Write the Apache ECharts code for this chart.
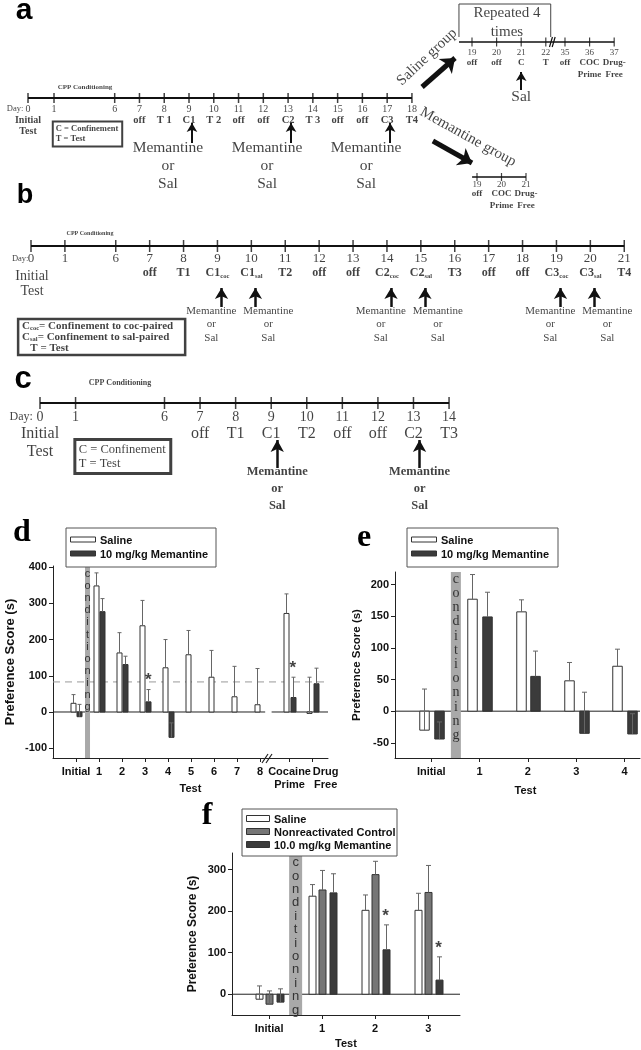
<!DOCTYPE html>
<html>
<head>
<meta charset="utf-8">
<script src="https://cdn.jsdelivr.net/npm/echarts@6.0.0/dist/echarts.min.js"></script>
<style>
html,body{margin:0;padding:0;background:#fff;}
#chart{width:641px;height:1050px;}
</style>
</head>
<body>
<div id="chart"></div>
<script>
// ---------------- DATA ----------------
// Panel a timeline
const aDays = [0,1,6,7,8,9,10,11,12,13,14,15,16,17,18];
const aEvents = ['','','','off','T 1','C1','T 2','off','off','C2','T 3','off','off','C3','T4'];
const aDrugDays = [9,13,17];
const aSalDays = [19,20,21,22,35,36,37];
const aSalEvents = ['off','off','C','T','off','COC\nPrime','Drug-\nFree'];
const aSalDrugDays = [21];
const aMemDays = [19,20,21];
const aMemEvents = ['off','COC\nPrime','Drug-\nFree'];
// Panel b timeline
const bDays = [0,1,6,7,8,9,10,11,12,13,14,15,16,17,18,19,20,21];
const bEvents = ['','','','off','T1','C1coc','C1sal','T2','off','off','C2coc','C2sal','T3','off','off','C3coc','C3sal','T4'];
const bDrugDays = [9,10,14,15,19,20];
// Panel c timeline
const cDays = [0,1,6,7,8,9,10,11,12,13,14];
const cEvents = ['','','','off','T1','C1','T2','off','off','C2','T3'];
const cDrugDays = [9,13];
const treatmentText = 'Memantine\nor\nSal';

// Panel d
const dCategories = ['Initial','1','2','3','4','5','6','7','8','Cocaine\nPrime','Drug\nFree'];
const dSeriesNames = ['Saline','10 mg/kg Memantine'];
const dSaline = [24,348,163,238,122,158,96,42,20,272,-4];
const dSalineErrTop = [48,384,219,308,200,225,170,126,120,326,96];
const dMemantine = [-13,277,131,28,-70,null,null,null,null,40,78];
const dMemantineErrTop = [21,313,154,62,-30,null,null,null,null,96,121];
const dSignificant = [3,9];
const dCriterion = 83;
const dYTicks = [-100,0,100,200,300,400];

// Panel e
const eCategories = ['Initial','1','2','3','4'];
const eSeriesNames = ['Saline','10 mg/kg Memantine'];
const eSaline = [-30,177,157,48,71];
const eSalineErrTop = [35,216,176,77,98];
const eMemantine = [-44,149,55,-35,-36];
const eMemantineErrTop = [-17,188,95,30,-4];
const eYTicks = [-50,0,50,100,150,200];

// Panel f
const fCategories = ['Initial','1','2','3'];
const fSeriesNames = ['Saline','Nonreactivated Control','10.0 mg/kg Memantine'];
const fSaline = [-12,236,202,202];
const fSalineErrTop = [20,264,239,243];
const fControl = [-24,251,288,245];
const fControlErrTop = [8,298,320,310];
const fMemantine = [-19,244,107,34];
const fMemantineErrTop = [13,290,167,90];
const fSignificant = [2,3];
const fYTicks = [0,100,200,300];

const bandWord = 'conditioning';
const yName = 'Preference Score (s)';
const xName = 'Test';

// ---------------- BUILD ----------------
const SERIF = 'Liberation Serif', SANS = 'Liberation Sans';
const INK = '#111';
const grids = [], xAxes = [], yAxes = [], series = [], graphic = [];

function addGrid(g, xa, ya) {
  const i = grids.length;
  grids.push(g);
  xAxes.push(Object.assign({gridIndex: i}, xa));
  yAxes.push(Object.assign({gridIndex: i}, ya));
  return i;
}
function T(x, y, t, s) { return {value: [x, y], label: Object.assign({formatter: t}, s || {})}; }
function textSeries(gi, items) {
  return {type: 'scatter', xAxisIndex: gi, yAxisIndex: gi, symbolSize: 0, clip: false, silent: true, z: 6,
    itemStyle: {color: 'rgba(0,0,0,0)'},
    label: {show: true, position: 'inside', color: INK, fontFamily: SERIF, align: 'center', verticalAlign: 'middle'},
    data: items};
}
function arrowLines(list, width, size) {
  return {silent: true, symbol: ['none', 'arrow'], symbolSize: size, label: {show: false},
    lineStyle: {color: INK, width: width, type: 'solid'}, emphasis: {disabled: true},
    data: list.map(a => [{coord: [a[0], a[1]]}, {coord: [a[2], a[3]]}])};
}

function timeline(c) {
  const gi = addGrid(
    {left: c.left + c.xMin * c.unit, top: c.lineY - c.up, width: (c.xMax - c.xMin) * c.unit, height: c.up + c.down},
    {type: 'value', min: c.xMin, max: c.xMax, show: false},
    {type: 'value', min: -c.up, max: c.down, inverse: true, show: false});
  const slots = c.days.map(c.slot);
  series.push({type: 'line', xAxisIndex: gi, yAxisIndex: gi, silent: true, clip: false, symbol: 'none', z: 3,
    lineStyle: {color: INK, width: c.lineW}, data: [[c.lineFrom, 0], [c.lineTo, 0]]});
  const arrows = (c.drugDays || []).map(d => {
    const x = c.slot(d) + c.arrowDx; return [x, c.arrowY[0], x, c.arrowY[1]];
  });
  series.push({type: 'scatter', xAxisIndex: gi, yAxisIndex: gi, silent: true, clip: false, z: 4,
    symbol: 'rect', symbolSize: c.tick, itemStyle: {color: INK},
    data: slots.map(s => [s, 0]),
    markLine: arrows.length ? arrowLines(arrows, c.arrowW, c.arrowSize) : undefined});
  const items = [];
  slots.forEach((s, i) => {
    items.push(T(s, c.dayY, String(c.days[i]), {fontSize: c.dayFont}));
    const ev = c.events[i];
    if (ev) {
      const m = ev.match(/^(C\d)(coc|sal)$/);
      items.push(T(s, c.evY - c.evLH / 2, m ? '{m|' + m[1] + '}{s|' + m[2] + '}' : ev,
        Object.assign({fontSize: c.evFont, fontWeight: c.evWeight, lineHeight: c.evLH, verticalAlign: 'top'},
          m ? {rich: c.rich} : {})));
    }
  });
  (c.drugDays || []).forEach((d, k) => {
    if (!c.treat) return;
    const dx = Array.isArray(c.treat.dx) ? c.treat.dx[k % c.treat.dx.length] : c.treat.dx;
    items.push(T(c.slot(d) + dx, c.treat.y, c.treat.text,
      {fontSize: c.treat.font, fontWeight: c.treat.weight || 'normal', lineHeight: c.treat.lh, verticalAlign: 'top'}));
  });
  (c.extras || []).forEach(e => items.push(e));
  series.push(textSeries(gi, items));
  return gi;
}

// ---- Panel a: main timeline
const aSlot = d => d === 0 ? 0 : d === 1 ? 1.05 : d - 2.5;
timeline({
  left: 28, unit: 24.77, xMin: 0, xMax: 15.5, lineY: 98, up: 98, down: 100,
  lineFrom: 0, lineTo: 15.5, lineW: 2, tick: [1.5, 10],
  days: aDays, events: aEvents, slot: aSlot,
  dayY: 11, dayFont: 10, evY: 22, evLH: 11, evFont: 10.5, evWeight: 'bold',
  drugDays: aDrugDays, arrowDx: 0.12, arrowY: [45, 25], arrowW: 2, arrowSize: [8, 9],
  treat: {dx: -0.85, y: 41, text: treatmentText, font: 15.5, lh: 18},
  extras: [
    T(-0.52, 11, 'Day:', {fontSize: 8.5}),
    T(0, 16.5, 'Initial\nTest', {fontSize: 10, fontWeight: 'bold', lineHeight: 11, verticalAlign: 'top'}),
    T(2.3, -11, 'CPP Conditioning', {fontSize: 7, fontWeight: 'bold'}),
    T(1.0, 36, 'C = Confinement\nT = Test', {fontSize: 8.5, fontWeight: 'bold', lineHeight: 10, align: 'left',
      borderColor: INK, borderWidth: 2, padding: [3, 4, 2, 3]})
  ]
});
// ---- Panel a: saline group timeline
const aSalSlot = d => d <= 22 ? d - 19 : d - 35 + 3.78;
const aSalGi = timeline({
  left: 472, unit: 24.6, xMin: -2.3, xMax: 5.8, lineY: 42, up: 42, down: 130,
  lineFrom: -0.53, lineTo: 5.78, lineW: 1.5, tick: [1.2, 9],
  days: aSalDays, events: aSalEvents, slot: aSalSlot,
  dayY: 11, dayFont: 9, evY: 21, evLH: 12, evFont: 9, evWeight: 'bold',
  drugDays: aSalDrugDays, arrowDx: 0, arrowY: [48, 30], arrowW: 2, arrowSize: [8, 9],
  extras: [
    T(1.42, -19.5, 'Repeated 4\ntimes', {fontSize: 15, lineHeight: 19}),
    T(2, 55, 'Sal', {fontSize: 15.5}),
    T(-1.83, 15, 'Saline group', {fontSize: 15, rotate: 43}),
    T(-0.16, 95, 'Memantine group', {fontSize: 15, rotate: -29})
  ]
});
series.push({type: 'line', xAxisIndex: aSalGi, yAxisIndex: aSalGi, silent: true, clip: false, symbol: 'none', z: 3,
  lineStyle: {color: '#444', width: 1}, data: [[-0.53, -5], [-0.53, -38], [3.2, -38], [3.2, -5]],
  markLine: {silent: true, symbol: ['none', 'none'], label: {show: false}, lineStyle: {color: INK, width: 1.2, type: 'solid'},
    data: [[{coord: [3.15, 5]}, {coord: [3.27, -5]}], [{coord: [3.26, 5]}, {coord: [3.38, -5]}]]}});
series.push({type: 'scatter', xAxisIndex: aSalGi, yAxisIndex: aSalGi, silent: true, symbolSize: 0, data: [],
  markLine: arrowLines([[-2.03, 45, -0.69, 16], [-1.59, 99, 0, 121]], 5, [15, 13])});
// ---- Panel a: memantine group timeline
timeline({
  left: 477, unit: 24.5, xMin: -0.3, xMax: 2.1, lineY: 177, up: 10, down: 40,
  lineFrom: -0.2, lineTo: 2, lineW: 1.5, tick: [1.2, 8],
  days: aMemDays, events: aMemEvents, slot: d => d - 19,
  dayY: 8, dayFont: 9, evY: 17, evLH: 12, evFont: 9, evWeight: 'bold'
});
// ---- Panel b
timeline({
  left: 31, unit: 33.9, xMin: 0, xMax: 17.5, lineY: 246, up: 20, down: 115,
  lineFrom: 0, lineTo: 17.5, lineW: 2, tick: [1.5, 12],
  days: bDays, events: bEvents, slot: d => d === 0 ? 0 : d === 1 ? 1 : d - 3.5,
  dayY: 13, dayFont: 13, evY: 27, evLH: 14, evFont: 12, evWeight: 'bold',
  rich: {m: {fontSize: 12, fontWeight: 'bold', fontFamily: SERIF, color: INK, lineHeight: 14},
         s: {fontSize: 6.5, fontWeight: 'bold', fontFamily: SERIF, color: INK, lineHeight: 8, verticalAlign: 'bottom'}},
  drugDays: bDrugDays, arrowDx: 0.12, arrowY: [61, 42], arrowW: 2.5, arrowSize: [10, 11],
  treat: {dx: [-0.18, 0.5], y: 58.25, text: treatmentText, font: 11, lh: 13.5},
  extras: [
    T(-0.32, 13, 'Day:', {fontSize: 8.5}),
    T(0.03, 22.5, 'Initial\nTest', {fontSize: 14, lineHeight: 15, verticalAlign: 'top'}),
    T(1.74, -13, 'CPP Conditioning', {fontSize: 6, fontWeight: 'bold'}),
    T(-0.38, 91, '{t|C}{s|coc}{t|= Confinement to coc-paired}\n{t|C}{s|sal}{t|= Confinement to sal-paired}\n{t|   T = Test}',
      {align: 'left', borderColor: INK, borderWidth: 2.5, padding: [2, 12, 1, 4],
       rich: {t: {fontSize: 11, fontWeight: 'bold', fontFamily: SERIF, color: INK, lineHeight: 11},
              s: {fontSize: 6.5, fontWeight: 'bold', fontFamily: SERIF, color: INK, lineHeight: 6, verticalAlign: 'bottom'}}})
  ]
});
// ---- Panel c
timeline({
  left: 40, unit: 35.57, xMin: 0, xMax: 11.5, lineY: 403, up: 25, down: 110,
  lineFrom: 0, lineTo: 11.5, lineW: 2, tick: [1.5, 12],
  days: cDays, events: cEvents, slot: d => d === 0 ? 0 : d === 1 ? 1 : d - 2.5,
  dayY: 14, dayFont: 14, evY: 31, evLH: 18, evFont: 16, evWeight: 'normal',
  drugDays: cDrugDays, arrowDx: 0.17, arrowY: [65, 37], arrowW: 2.5, arrowSize: [10, 12],
  treat: {dx: 0.17, y: 60.5, text: treatmentText, font: 12.5, weight: 'bold', lh: 17},
  extras: [
    T(-0.53, 14, 'Day:', {fontSize: 12}),
    T(0, 22, 'Initial\nTest', {fontSize: 16, lineHeight: 18, verticalAlign: 'top'}),
    T(2.25, -20, 'CPP Conditioning', {fontSize: 8, fontWeight: 'bold'}),
    T(0.98, 53.5, 'C = Confinement\nT = Test', {fontSize: 12.5, lineHeight: 14, align: 'left',
      borderColor: INK, borderWidth: 3, padding: [3, 5, 3, 4]})
  ]
});

// ---------------- BAR PANELS ----------------
function barSeries(gi, name, pos, vals, errs, off, w, fill, capW) {
  const data = [];
  vals.forEach((v, i) => { if (v !== null) data.push([pos(i), v, errs[i]]); });
  return {type: 'custom', name: name, xAxisIndex: gi, yAxisIndex: gi, silent: true, clip: false, z: 4,
    encode: {x: 0, y: 1},
    renderItem: function (params, api) {
      const x = api.value(0), v = api.value(1), e = api.value(2);
      const p0 = api.coord([x, 0]), p1 = api.coord([x, v]), pe = api.coord([x, e]);
      const cx = Math.round(p0[0] + off) + 0.5;
      return {type: 'group', children: [
        {type: 'rect', shape: {x: cx - w / 2, y: Math.min(p0[1], p1[1]), width: w, height: Math.abs(p1[1] - p0[1])},
          style: {fill: fill, stroke: '#333', lineWidth: 1}},
        {type: 'line', shape: {x1: cx, y1: p1[1], x2: cx, y2: pe[1]}, style: {stroke: '#666', lineWidth: 1}},
        {type: 'line', shape: {x1: cx - capW / 2, y1: pe[1], x2: cx + capW / 2, y2: pe[1]}, style: {stroke: '#666', lineWidth: 1}}
      ]};
    },
    data: data};
}
function bandSeries(gi, pos, w, font, lh, pad) {
  return {type: 'custom', xAxisIndex: gi, yAxisIndex: gi, silent: true, z: 5, data: [[pos, 0]],
    renderItem: function (params, api) {
      const cs = params.coordSys, c = api.coord([api.value(0), 0]);
      return {type: 'group', children: [
        {type: 'rect', shape: {x: c[0] - w / 2, y: cs.y, width: w, height: cs.height}, style: {fill: '#a9a9a9'}},
        {type: 'text', style: {text: bandWord.split('').join('\n'), x: c[0], y: cs.y + pad, align: 'center',
          verticalAlign: 'top', font: font, lineHeight: lh, fill: '#333'}}
      ]};
    }};
}
function refLine(gi, pts, style, z) {
  return {type: 'line', xAxisIndex: gi, yAxisIndex: gi, silent: true, symbol: 'none', clip: false, z: z || 2,
    lineStyle: style, data: pts};
}
function starSeries(gi, pts, off) {
  return {type: 'scatter', xAxisIndex: gi, yAxisIndex: gi, symbolSize: 0, silent: true, clip: false, z: 6,
    itemStyle: {color: 'rgba(0,0,0,0)'},
    label: {show: true, position: 'inside', formatter: '*', color: INK, fontFamily: SANS, fontWeight: 'bold',
      fontSize: 17, offset: [off, -9]},
    data: pts};
}
function barAxes(c) {
  const labFont = {fontFamily: SANS, fontWeight: 'bold', fontSize: 11, color: INK};
  const labelPos = c.labelPos || c.pos;
  return addGrid(c.grid,
    {type: 'value', min: c.xMin, max: c.xMax,
     axisLine: {show: true, onZero: false, lineStyle: {color: '#222', width: 1}},
     axisTick: {show: true, customValues: c.cats.map((_, i) => c.pos(i)), length: 4, lineStyle: {color: '#222'}},
     axisLabel: Object.assign({customValues: c.cats.map((_, i) => labelPos(i)), margin: 7, lineHeight: 13,
       showMinLabel: true, showMaxLabel: true,
       formatter: v => {
         const i = c.cats.findIndex((_, k) => Math.abs(labelPos(k) - v) < 1e-3);
         return i < 0 ? '' : c.cats[i];
       }}, labFont),
     splitLine: {show: false},
     name: xName, nameLocation: 'middle', nameGap: c.xGap, nameMoveOverlap: false,
     nameTextStyle: Object.assign({padding: [0, 0, 0, c.xNameShift || 0]}, labFont)},
    {type: 'value', min: c.yMin, max: c.yMax,
     axisLine: {show: true, onZero: false, lineStyle: {color: '#222', width: 1}},
     axisTick: {show: true, customValues: c.yTicks, length: 4, lineStyle: {color: '#222'}},
     axisLabel: Object.assign({customValues: c.yTicks, margin: 6}, labFont),
     splitLine: {show: false},
     name: yName, nameLocation: 'middle', nameRotate: 90, nameGap: c.yGap, nameMoveOverlap: false,
     nameTextStyle: {fontFamily: SANS, fontWeight: 'bold', fontSize: c.yNameFont, color: INK}});
}

// ---- Panel d
const dPos = i => i <= 8 ? i : i + 0.28;
const dLabelPos = i => i === dCategories.length - 1 ? dPos(i) + 0.57 : dPos(i);
const dGi = barAxes({grid: {left: 53, top: 566, width: 275, height: 192}, xMin: -1, xMax: 10.95, yMin: -127, yMax: 403,
  cats: dCategories, pos: dPos, labelPos: dLabelPos, yTicks: dYTicks, xGap: 25, yGap: 36, yNameFont: 13});
series.push(refLine(dGi, [[-1, 0], [8.22, 0]], {color: '#222', width: 1}));
series.push(refLine(dGi, [[8.5, 0], [10.95, 0]], {color: '#222', width: 1}));
series.push(refLine(dGi, [[-1, dCriterion], [10.95, dCriterion]], {color: '#999', width: 1, type: [7, 5]}));
series.push(bandSeries(dGi, 0.5, 5, '11px ' + SANS, 12.1, 2));
series.push(barSeries(dGi, dSeriesNames[0], dPos, dSaline, dSalineErrTop, -3.3, 5, '#fff', 4));
series.push(barSeries(dGi, dSeriesNames[1], dPos, dMemantine, dMemantineErrTop, 3.3, 5, '#3b3b3b', 4));
series.push(starSeries(dGi, dSignificant.map(i => [dPos(i), dMemantineErrTop[i]]), 3.3));

// ---- Panel e
const ePos = i => i;
const eGi = barAxes({grid: {left: 395, top: 572, width: 245, height: 186}, xMin: -0.75, xMax: 4.32, yMin: -74, yMax: 220,
  cats: eCategories, pos: ePos, yTicks: eYTicks, xGap: 27, yGap: 32, yNameFont: 11.5, xNameShift: 16});
series.push(refLine(eGi, [[-0.75, 0], [4.32, 0]], {color: '#222', width: 1}));
series.push(bandSeries(eGi, 0.51, 10, '14px ' + SERIF, 14.2, 0));
series.push(barSeries(eGi, eSeriesNames[0], ePos, eSaline, eSalineErrTop, -7.3, 9.5, '#fff', 5));
series.push(barSeries(eGi, eSeriesNames[1], ePos, eMemantine, eMemantineErrTop, 7.3, 9.5, '#3b3b3b', 5));

// ---- Panel f
const fPos = i => i;
const fGi = barAxes({grid: {left: 232, top: 853, width: 228, height: 164}, xMin: -0.7, xMax: 3.6, yMin: -50, yMax: 340,
  cats: fCategories, pos: fPos, yTicks: fYTicks, xGap: 23, yGap: 33, yNameFont: 12});
series.push(refLine(fGi, [[-0.7, 0], [3.6, 0]], {color: '#222', width: 1}));
series.push(bandSeries(fGi, 0.5, 13, '13px ' + SANS, 13.4, 3));
series.push(barSeries(fGi, fSeriesNames[0], fPos, fSaline, fSalineErrTop, -10.6, 7, '#fff', 5));
series.push(barSeries(fGi, fSeriesNames[1], fPos, fControl, fControlErrTop, 0, 7, '#767676', 5));
series.push(barSeries(fGi, fSeriesNames[2], fPos, fMemantine, fMemantineErrTop, 10.4, 7, '#3b3b3b', 5));
series.push(starSeries(fGi, fSignificant.map(i => [fPos(i), fMemantineErrTop[i]]), 10.4));

// ---------------- DECORATIONS (panel letters, legends, axis break) ----------------
function letter(t, x, y, font) {
  graphic.push({type: 'text', x: x, y: y, z: 20, style: {text: t, font: font, fill: '#000', align: 'center', verticalAlign: 'middle'}});
}
letter('a', 24, 11, 'bold 30px ' + SANS);
letter('b', 25, 196, 'bold 27px ' + SANS);
letter('c', 23, 379, 'bold 31px ' + SANS);
letter('d', 22, 533, 'bold 32px ' + SERIF);
letter('e', 364, 538, 'bold 32px ' + SERIF);
letter('f', 207, 816, 'bold 32px ' + SERIF);

function legendBox(x, y, w, h, sw, items) {
  graphic.push({type: 'rect', z: 20, shape: {x: x, y: y, width: w, height: h}, style: {fill: '#fff', stroke: '#555', lineWidth: 1}});
  items.forEach(it => {
    graphic.push({type: 'rect', z: 21, shape: {x: x + 4.5, y: it.y - sw[1] / 2 - 1.5, width: sw[0], height: sw[1]},
      style: {fill: it.fill, stroke: '#333', lineWidth: 1}});
    graphic.push({type: 'text', z: 21, x: x + sw[0] + 9, y: it.y,
      style: {text: it.name, font: 'bold 11px ' + SANS, fill: INK, verticalAlign: 'middle'}});
  });
}
legendBox(66, 528, 150, 39, [25, 5], [{name: dSeriesNames[0], fill: '#fff', y: 541}, {name: dSeriesNames[1], fill: '#3b3b3b', y: 555}]);
legendBox(407, 528, 151, 39, [25, 5], [{name: eSeriesNames[0], fill: '#fff', y: 541}, {name: eSeriesNames[1], fill: '#3b3b3b', y: 555}]);
legendBox(242, 809, 155, 47, [23, 6], [{name: fSeriesNames[0], fill: '#fff', y: 820}, {name: fSeriesNames[1], fill: '#767676', y: 833},
  {name: fSeriesNames[2], fill: '#3b3b3b', y: 846}]);
// axis break marks on panel d
graphic.push({type: 'line', z: 20, shape: {x1: 262, y1: 763, x2: 268, y2: 754}, style: {stroke: '#222', lineWidth: 1.2}});
graphic.push({type: 'line', z: 20, shape: {x1: 266, y1: 763, x2: 272, y2: 754}, style: {stroke: '#222', lineWidth: 1.2}});

const chart = echarts.init(document.getElementById('chart'), null, {renderer: 'canvas'});
chart.setOption({
  animation: false,
  backgroundColor: '#fff',
  textStyle: {fontFamily: SANS},
  grid: grids, xAxis: xAxes, yAxis: yAxes, series: series, graphic: graphic
});
</script>
</body>
</html>
